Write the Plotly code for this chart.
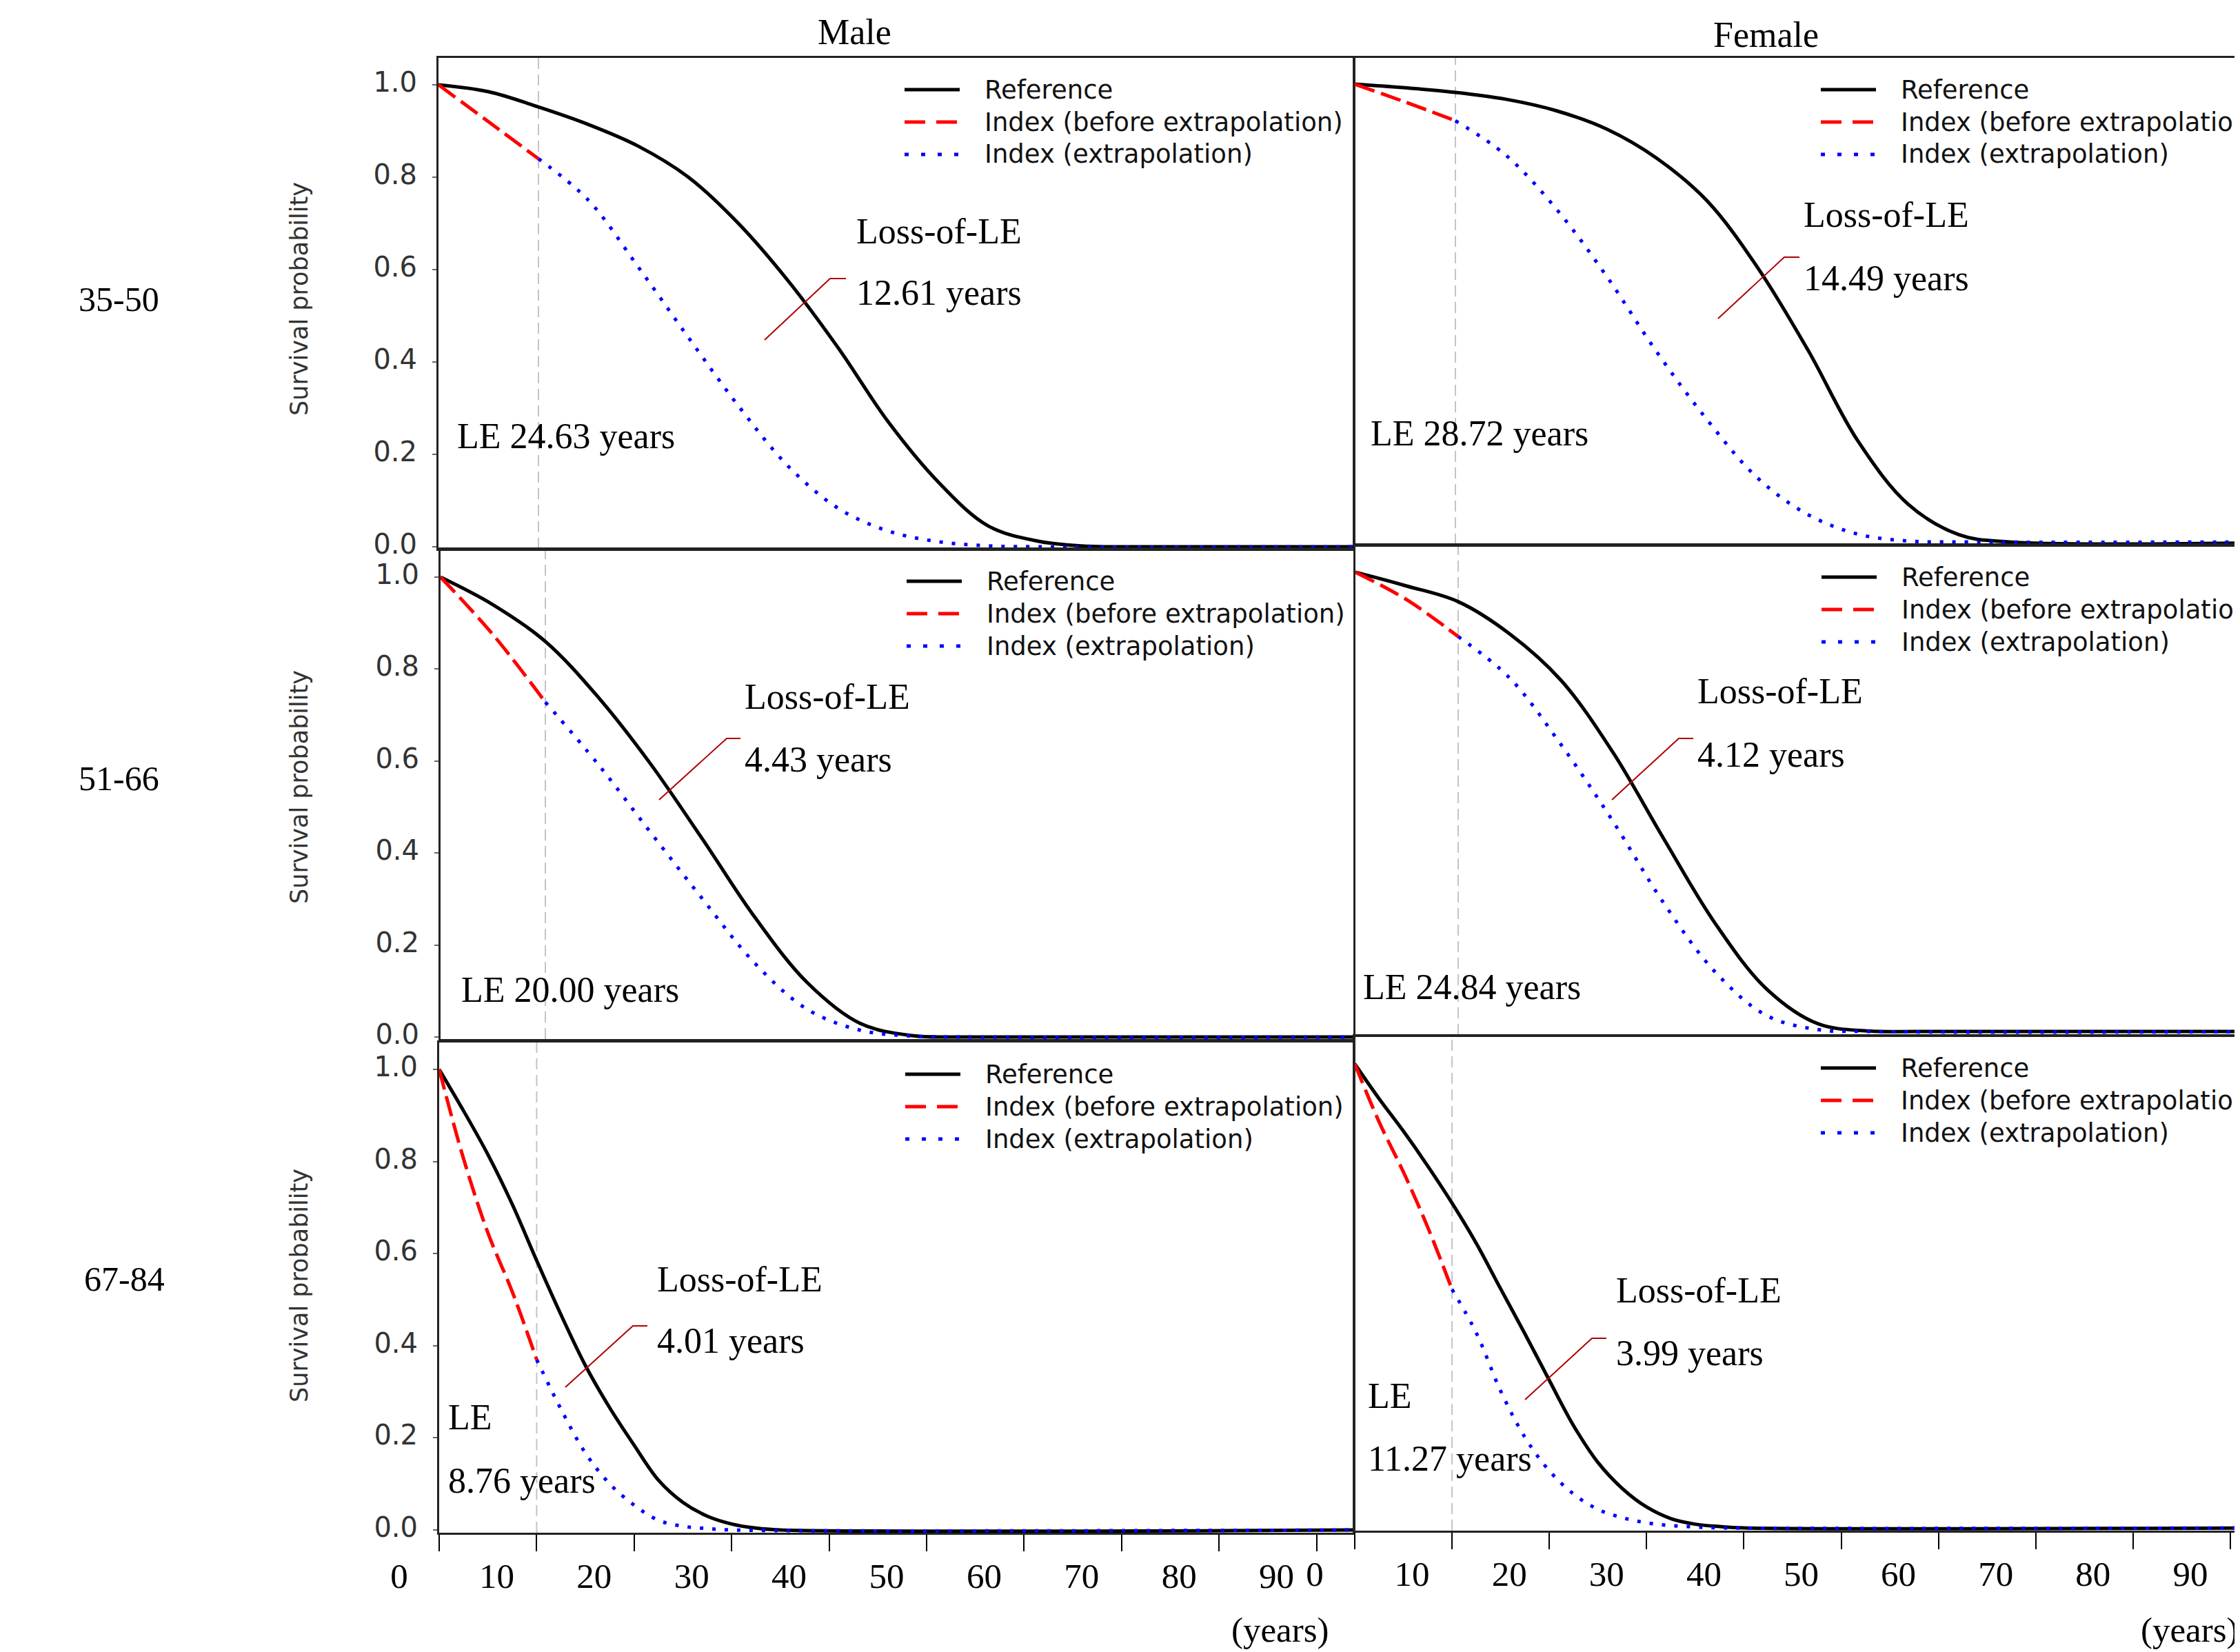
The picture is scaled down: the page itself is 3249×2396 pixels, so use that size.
import plotly.graph_objects as go

W, H = 3249, 2396
OX, OY = 8, 8  # page body margin offset of the plot div

# ---------------- data ----------------
row_labels = ["35-50", "51-66", "67-84"]
col_titles = ["Male", "Female"]
legend_labels = ["Reference", "Index (before extrapolation)", "Index (extrapolation)"]
x_tick_vals = [0, 10, 20, 30, 40, 50, 60, 70, 80, 90]
x_tick_text = ["0", "10", "20", "30", "40", "50", "60", "70", "80", "90"]
y_tick_vals = [0.0, 0.2, 0.4, 0.6, 0.8, 1.0]
y_tick_text = ["0.0", "0.2", "0.4", "0.6", "0.8", "1.0"]
followup_end = 10

# Male 35-50
m1_ref_t = [0, 5, 10, 15, 20, 25, 30, 35, 40, 45, 50, 55, 60, 65, 70, 95]
m1_ref_s = [1.0, 0.985, 0.952, 0.914, 0.867, 0.80, 0.70, 0.575, 0.43, 0.27, 0.14, 0.045, 0.012, 0.001, 0, 0]
m1_bef_t = [0, 5, 10]
m1_bef_s = [1.0, 0.92, 0.84]
m1_ext_t = [10, 15, 20, 25, 30, 35, 40, 45, 50, 55, 60, 95]
m1_ext_s = [0.84, 0.75, 0.605, 0.453, 0.305, 0.174, 0.083, 0.034, 0.011, 0.002, 0, 0]

# Female 35-50
f1_ref_t = [0, 5, 10, 15, 20, 25, 30, 35, 40, 45, 50, 55, 60, 65, 95]
f1_ref_s = [1.0, 0.992, 0.982, 0.967, 0.942, 0.902, 0.838, 0.745, 0.60, 0.42, 0.22, 0.082, 0.016, 0, 0]
f1_bef_t = [0, 5, 10]
f1_bef_s = [1.0, 0.961, 0.92]
f1_ext_t = [10, 15, 20, 25, 30, 35, 40, 45, 50, 55, 60, 95]
f1_ext_s = [0.92, 0.845, 0.728, 0.581, 0.415, 0.267, 0.14, 0.06, 0.017, 0.002, 0, 0]

# Male 51-66
m2_ref_t = [0, 5, 10, 15, 20, 25, 30, 35, 40, 45, 50, 95]
m2_ref_s = [1.0, 0.94, 0.86, 0.74, 0.595, 0.43, 0.26, 0.118, 0.03, 0.003, 0, 0]
m2_bef_t = [0, 5, 10]
m2_bef_s = [1.0, 0.875, 0.728]
m2_ext_t = [10, 15, 20, 25, 30, 35, 40, 45, 50, 95]
m2_ext_s = [0.728, 0.594, 0.446, 0.30, 0.16, 0.06, 0.015, 0.002, 0, 0]

# Female 51-66
f2_ref_t = [0, 5, 10, 15, 20, 25, 30, 35, 40, 45, 50, 55, 95]
f2_ref_s = [1.0, 0.97, 0.936, 0.866, 0.765, 0.61, 0.42, 0.236, 0.093, 0.017, 0.001, 0, 0]
f2_bef_t = [0, 5, 10]
f2_bef_s = [1.0, 0.94, 0.86]
f2_ext_t = [10, 15, 20, 25, 30, 35, 40, 45, 50, 95]
f2_ext_s = [0.86, 0.77, 0.625, 0.46, 0.28, 0.13, 0.035, 0.004, 0, 0]

# Male 67-84
m3_ref_t = [0, 2.5, 5, 7.5, 10, 12.5, 15, 17.5, 20, 22.5, 25, 27.5, 30, 32.5, 35, 95]
m3_ref_s = [1.0, 0.91, 0.815, 0.707, 0.585, 0.467, 0.357, 0.265, 0.184, 0.108, 0.06, 0.03, 0.013, 0.004, 0, 0]
m3_bef_t = [0, 2.5, 5, 7.5, 10]
m3_bef_s = [1.0, 0.806, 0.645, 0.517, 0.37]
m3_ext_t = [10, 12.5, 15, 17.5, 20, 22.5, 25, 27.5, 30, 95]
m3_ext_s = [0.37, 0.262, 0.167, 0.10, 0.054, 0.021, 0.008, 0.003, 0, 0]

# Female 67-84
f3_ref_t = [0, 2.5, 5, 7.5, 10, 12.5, 15, 17.5, 20, 22.5, 25, 27.5, 30, 32.5, 35, 37.5, 40, 95]
f3_ref_s = [1.0, 0.925, 0.855, 0.78, 0.70, 0.613, 0.515, 0.418, 0.318, 0.22, 0.141, 0.085, 0.045, 0.02, 0.008, 0.003, 0, 0]
f3_bef_t = [0, 2.5, 5, 7.5, 10]
f3_bef_s = [1.0, 0.875, 0.767, 0.648, 0.514]
f3_ext_t = [10, 12.5, 15, 17.5, 20, 22.5, 25, 27.5, 30, 32.5, 35, 37.5, 95]
f3_ext_s = [0.514, 0.42, 0.295, 0.195, 0.123, 0.073, 0.04, 0.022, 0.011, 0.005, 0.002, 0, 0]

# LE texts: (first line, second line or "")
le_text = [("LE 24.63 years", ""), ("LE 28.72 years", ""), ("LE 20.00 years", ""),
           ("LE 24.84 years", ""), ("LE", "8.76 years"), ("LE", "11.27 years")]
loss_text = ["12.61 years", "14.49 years", "4.43 years", "4.12 years", "4.01 years", "3.99 years"]

# ---------------- layout geometry (pixels of the reference picture) ----------------
# left, right, top, bottom, pixel of S=1, pixel of S=0, pixels per year
geom = [
    dict(l=636, r=1963, t=84, b=796, p1=123, p0=793, ppy=14.5),    # male 35-50
    dict(l=1965, r=3257, t=84, b=790, p1=122, p0=786, ppy=14.6),   # female 35-50
    dict(l=639, r=1963, t=797, b=1507, p1=837, p0=1504, ppy=15.2),  # male 51-66
    dict(l=1966, r=3257, t=791, b=1501, p1=830, p0=1496, ppy=14.9),  # female 51-66
    dict(l=637, r=1963, t=1512, b=2223, p1=1551, p0=2219, ppy=14.14),  # male 67-84
    dict(l=1965, r=3257, t=1503, b=2220, p1=1543, p0=2216, ppy=14.11),  # female 67-84
]
# loss text left / center-y of each line, leader path, LE text left / center-y of each line
ann = [
    dict(lx=1240, ly1=335, ly2=425, lead=[(1109, 493), (1204, 404), (1227, 404)], ex=661, ey1=633, ey2=None),
    dict(lx=2614, ly1=311, ly2=403, lead=[(2492, 462), (2588, 373), (2610, 373)], ex=1986, ey1=628, ey2=None),
    dict(lx=1078, ly1=1010, ly2=1102, lead=[(956, 1160), (1054, 1071), (1074, 1071)], ex=667, ey1=1436, ey2=None),
    dict(lx=2460, ly1=1002, ly2=1094, lead=[(2338, 1160), (2435, 1071), (2456, 1071)], ex=1975, ey1=1431, ey2=None),
    dict(lx=951, ly1=1855, ly2=1944, lead=[(820, 2012), (918, 1923), (939, 1923)], ex=648, ey1=2055, ey2=2147),
    dict(lx=2342, ly1=1871, ly2=1962, lead=[(2212, 2030), (2309, 1941), (2330, 1941)], ex=1982, ey1=2024, ey2=2115),
]

series = [
    (m1_ref_t, m1_ref_s, m1_bef_t, m1_bef_s, m1_ext_t, m1_ext_s),
    (f1_ref_t, f1_ref_s, f1_bef_t, f1_bef_s, f1_ext_t, f1_ext_s),
    (m2_ref_t, m2_ref_s, m2_bef_t, m2_bef_s, m2_ext_t, m2_ext_s),
    (f2_ref_t, f2_ref_s, f2_bef_t, f2_bef_s, f2_ext_t, f2_ext_s),
    (m3_ref_t, m3_ref_s, m3_bef_t, m3_bef_s, m3_ext_t, m3_ext_s),
    (f3_ref_t, f3_ref_s, f3_bef_t, f3_bef_s, f3_ext_t, f3_ext_s),
]

SERIF = "Liberation Serif, Times New Roman, serif"
SANS = "DejaVu Sans, Liberation Sans, Arial, sans-serif"
RED_DASH = "30px,10px"
BLUE_DOT = "5px,13px"


def px_x(p):
    return (p - OX) / W


def px_y(p):
    return 1 - (p - OY) / H


fig = go.Figure()
shapes = []
annotations = []
layout_axes = {}

for i, (g, s, a) in enumerate(zip(geom, series, ann)):
    n = i + 1
    xa = "x" if n == 1 else f"x{n}"
    ya = "y" if n == 1 else f"y{n}"
    rt, rs, bt, bs, et, es = s
    spline = dict(shape="spline", smoothing=1.0)
    fig.add_trace(go.Scatter(x=rt, y=rs, mode="lines", name=legend_labels[0], showlegend=False,
                             line=dict(color="black", width=5, **spline), xaxis=xa, yaxis=ya))
    fig.add_trace(go.Scatter(x=et, y=es, mode="lines", name=legend_labels[2], showlegend=False,
                             line=dict(color="#0000ff", width=5, dash=BLUE_DOT, **spline), xaxis=xa, yaxis=ya))
    fig.add_trace(go.Scatter(x=bt, y=bs, mode="lines", name=legend_labels[1], showlegend=False,
                             line=dict(color="#ff0000", width=5, dash=RED_DASH, **spline), xaxis=xa, yaxis=ya))

    male = (i % 2 == 0)
    bottom_row = (i >= 4)
    x_dom = [px_x(g["l"]), min(px_x(g["r"]), 1.0)]
    xmax = (x_dom[1] - x_dom[0]) * W / g["ppy"]
    unit = g["p0"] - g["p1"]
    ymin = -(g["b"] - g["p0"]) / unit
    ymax = 1 + (g["p1"] - g["t"]) / unit

    xaxis = dict(domain=x_dom, range=[0, xmax], anchor=ya,
                 showline=True, linecolor="#222", linewidth=3, mirror=True, automargin=False,
                 showgrid=False, zeroline=False, fixedrange=True)
    if bottom_row:
        xaxis.update(tickmode="array", tickvals=x_tick_vals, ticktext=x_tick_text,
                     ticks="outside", ticklen=24, tickwidth=2, tickcolor="black",
                     tickfont=dict(family=SERIF, size=51, color="black"),
                     ticklabelshift=-58, ticklabelstandoff=-8)
    else:
        xaxis.update(showticklabels=False, ticks="")
    yaxis = dict(domain=[px_y(g["b"]), px_y(g["t"])], range=[ymin, ymax], anchor=xa,
                 showline=True, linecolor="#222", linewidth=3, mirror=male, automargin=False,
                 showgrid=False, zeroline=False, fixedrange=True)
    if male:
        yaxis.update(tickmode="array", tickvals=y_tick_vals, ticktext=y_tick_text,
                     ticks="outside", ticklen=6, tickwidth=2, tickcolor="#666",
                     tickfont=dict(family=SANS, size=40, color="#333"),
                     ticklabelstandoff=14, ticklabelshift=-4)
    else:
        yaxis.update(showticklabels=False, ticks="")
    layout_axes["xaxis" if n == 1 else f"xaxis{n}"] = xaxis
    layout_axes["yaxis" if n == 1 else f"yaxis{n}"] = yaxis

    # end-of-follow-up reference line
    shapes.append(dict(type="line", xref=xa, yref=f"{ya} domain", x0=followup_end, x1=followup_end,
                       y0=0, y1=1, layer="below", line=dict(color="#c4c4c4", width=2, dash="16px,8px")))

    # legend (drawn inside each panel)
    styles = [dict(color="black", width=5), dict(color="#ff0000", width=5, dash="30px,16px"),
              dict(color="#0000ff", width=5, dash="6px,18px")]
    for k in range(3):
        yy = g["t"] + 46 + 47 * k
        shapes.append(dict(type="line", xref="paper", yref="paper",
                           x0=px_x(g["l"] + 676), x1=px_x(g["l"] + 756),
                           y0=px_y(yy), y1=px_y(yy), line=styles[k]))
        annotations.append(dict(xref="paper", yref="paper", x=px_x(g["l"] + 790), y=px_y(yy),
                                text=legend_labels[k], showarrow=False, xanchor="left", yanchor="middle",
                                font=dict(family=SANS, size=37, color="#111")))

    # loss-of-LE annotation with leader line
    annotations.append(dict(xref="paper", yref="paper", x=px_x(a["lx"]), y=px_y(a["ly1"]),
                            text="Loss-of-LE", showarrow=False, xanchor="left", yanchor="middle",
                            font=dict(family=SERIF, size=52, color="black")))
    annotations.append(dict(xref="paper", yref="paper", x=px_x(a["lx"]), y=px_y(a["ly2"]),
                            text=loss_text[i], showarrow=False, xanchor="left", yanchor="middle",
                            font=dict(family=SERIF, size=52, color="black")))
    p = a["lead"]
    path = "M {} {} L {} {} L {} {}".format(px_x(p[0][0]), px_y(p[0][1]), px_x(p[1][0]), px_y(p[1][1]),
                                             px_x(p[2][0]), px_y(p[2][1]))
    shapes.append(dict(type="path", xref="paper", yref="paper", path=path,
                       line=dict(color="#b00000", width=2)))
    # LE annotation (one or two lines)
    annotations.append(dict(xref="paper", yref="paper", x=px_x(a["ex"]), y=px_y(a["ey1"]),
                            text=le_text[i][0], showarrow=False, xanchor="left", yanchor="middle",
                            font=dict(family=SERIF, size=52, color="black")))
    if a["ey2"] is not None:
        annotations.append(dict(xref="paper", yref="paper", x=px_x(a["ex"]), y=px_y(a["ey2"]),
                                text=le_text[i][1], showarrow=False, xanchor="left", yanchor="middle",
                                font=dict(family=SERIF, size=52, color="black")))

# row labels and y titles
row_centers = [434, 1129, 1855]
row_label_x = [172, 172, 180]
ytitle_centers = [434, 1142, 1865]
for r in range(3):
    annotations.append(dict(xref="paper", yref="paper", x=px_x(row_label_x[r]), y=px_y(row_centers[r]),
                            text=row_labels[r], showarrow=False, xanchor="center", yanchor="middle",
                            font=dict(family=SERIF, size=50, color="black")))
    annotations.append(dict(xref="paper", yref="paper", x=px_x(434), y=px_y(ytitle_centers[r]),
                            text="Survival probability", textangle=-90, showarrow=False,
                            xanchor="center", yanchor="middle",
                            font=dict(family=SANS, size=35, color="#333")))

# column titles
for c, (cx, cy) in enumerate([(1239, 46), (2561, 50)]):
    annotations.append(dict(xref="paper", yref="paper", x=px_x(cx), y=px_y(cy), text=col_titles[c],
                            showarrow=False, xanchor="center", yanchor="middle",
                            font=dict(family=SERIF, size=52, color="black")))

# "(years)" unit labels
for cx in [1857, 3176]:
    annotations.append(dict(xref="paper", yref="paper", x=px_x(cx), y=px_y(2364), text="(years)",
                            showarrow=False, xanchor="center", yanchor="middle",
                            font=dict(family=SERIF, size=51, color="black")))

fig.update_layout(
    width=W, height=H,
    margin=dict(l=0, r=0, t=0, b=0, autoexpand=False),
    paper_bgcolor="white", plot_bgcolor="white",
    showlegend=False,
    shapes=shapes, annotations=annotations,
    **layout_axes,
)

fig.write_html("out.html")
